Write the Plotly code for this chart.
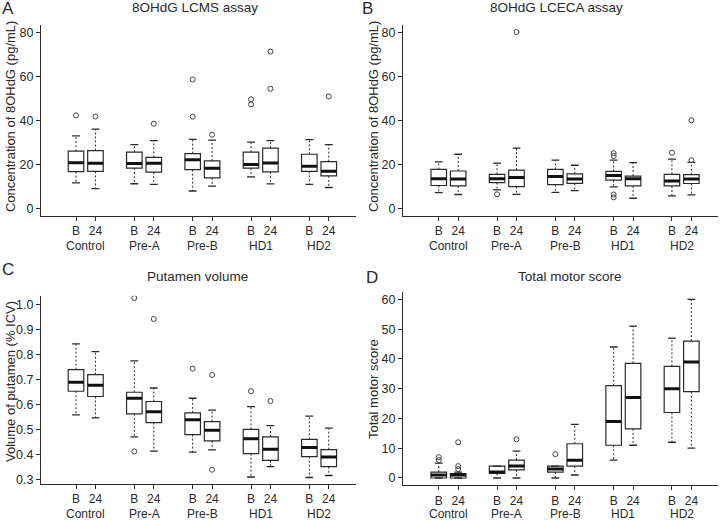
import plotly.graph_objects as go

# ---------------- data ----------------
groups = ["Control", "Pre-A", "Pre-B", "HD1", "HD2"]
times = ["B", "24"]
positions = [1, 2, 4, 5, 7, 8, 10, 11, 13, 14]
tick_text = times * 5

# Panel A: 8OHdG LCMS assay (pg/mL)
A_lo = [11.6, 9.0, 11.2, 10.9, 7.9, 10.1, 14.3, 11.1, 10.9, 9.5]
A_q1 = [16.7, 16.8, 18.3, 16.5, 17.6, 13.9, 18.3, 16.6, 16.8, 14.8]
A_med = [20.7, 20.5, 20.4, 20.5, 22.1, 18.3, 20.0, 20.6, 19.2, 16.9]
A_q3 = [26.0, 26.3, 25.6, 23.2, 24.9, 21.6, 25.6, 27.4, 24.6, 21.3]
A_hi = [33.0, 36.0, 29.0, 30.8, 31.4, 31.0, 30.1, 30.8, 31.3, 29.0]
A_out = [[42.3], [41.8], [], [38.5], [41.7, 58.6], [33.5], [47.3, 49.6], [54.4, 71.3], [], [50.9]]

# Panel B: 8OHdG LCECA assay (pg/mL)
B_lo = [7.2, 6.3, 8.4, 6.4, 7.3, 8.1, 9.8, 4.6, 5.7, 6.1]
B_q1 = [10.4, 10.2, 11.7, 9.9, 10.8, 11.4, 12.8, 10.2, 10.2, 11.3]
B_med = [13.5, 13.3, 13.5, 14.0, 14.5, 13.3, 15.0, 13.5, 12.5, 13.3]
B_q3 = [17.7, 17.0, 15.5, 17.4, 17.7, 15.7, 16.8, 14.7, 15.5, 15.3]
B_hi = [21.1, 24.6, 20.6, 27.4, 21.9, 19.6, 21.9, 20.8, 22.4, 20.9]
B_out = [[], [], [6.4], [80.2], [], [], [5.0, 6.3, 23.8, 25.1], [], [25.3], [21.9, 40.1]]

# Panel C: Putamen volume (% ICV)
C_lo = [0.560, 0.548, 0.472, 0.415, 0.411, 0.420, 0.312, 0.353, 0.310, 0.318]
C_q1 = [0.654, 0.633, 0.564, 0.529, 0.481, 0.456, 0.405, 0.378, 0.393, 0.353]
C_med = [0.690, 0.678, 0.626, 0.572, 0.540, 0.498, 0.464, 0.423, 0.430, 0.392]
C_q3 = [0.740, 0.720, 0.650, 0.613, 0.568, 0.533, 0.502, 0.472, 0.462, 0.421]
C_hi = [0.843, 0.812, 0.775, 0.667, 0.626, 0.579, 0.593, 0.517, 0.555, 0.507]
C_out = [[], [], [0.414, 1.026], [0.942], [0.744], [0.341, 0.719], [0.654], [0.615], [], []]

# Panel D: Total motor score
D_lo = [0, 0, 0, 0, 0, 1, 6, 11, 12, 10]
D_q1 = [0, 0, 1.5, 2.75, 2, 4, 11, 16.5, 22, 29]
D_med = [1, 1, 2, 4, 3, 6, 19, 27, 30, 39]
D_q3 = [2, 1.5, 4, 6, 4, 11.5, 31, 38.5, 37.5, 46]
D_hi = [5, 2, 4, 9, 4, 18, 44, 51, 47, 60]
D_out = [[6, 7], [3, 4, 12], [], [13], [8], [], [], [], [], []]

titles = ["8OHdG LCMS assay", "8OHdG LCECA assay", "Putamen volume", "Total motor score"]
letters = ["A", "B", "C", "D"]
ytitles = ["Concentration of 8OHdG (pg/mL)", "Concentration of 8OHdG (pg/mL)",
           "Volume of putamen (% ICV)", "Total motor score"]

panels = [
    (A_lo, A_q1, A_med, A_q3, A_hi, A_out),
    (B_lo, B_q1, B_med, B_q3, B_hi, B_out),
    (C_lo, C_q1, C_med, C_q3, C_hi, C_out),
    (D_lo, D_q1, D_med, D_q3, D_hi, D_out),
]

# ---------------- styling / layout ----------------
W, H = 720, 520
INK = "#2a2a2a"
FONT = "Liberation Sans, Arial, sans-serif"

x_dom_left = [41 / W, 356 / W]
x_dom_right = [403 / W, 718 / W]
x_rng_left = [-0.8, 15.4]
x_rng_right = [-0.84, 15.37]

y_doms = [
    [1 - 217.3 / H, 1 - 25.4 / H],
    [1 - 217.3 / H, 1 - 25.4 / H],
    [1 - 487.5 / H, 1 - 298 / H],
    [1 - 488.9 / H, 1 - 294.5 / H],
]
y_rngs = [[-3.3, 83.3], [-3.3, 83.3], [0.285, 1.035], [-2.4, 62.4]]
y_ticks = [[0, 20, 40, 60, 80], [0, 20, 40, 60, 80],
           [0.3, 0.4, 0.5, 0.6, 0.7, 0.8, 0.9, 1.0], [0, 10, 20, 30, 40, 50, 60]]
y_fmt = ["", "", ".1f", ""]

fig = go.Figure()

for i, (lo, q1, med, q3, hi, out) in enumerate(panels):
    xa = "x" if i == 0 else f"x{i+1}"
    ya = "y" if i == 0 else f"y{i+1}"

    # dashed whiskers
    wx, wy = [], []
    for p, a, b, c, d in zip(positions, lo, q1, q3, hi):
        wx += [p, p, None, p, p, None]
        wy += [c, d, None, b, a, None]
    fig.add_trace(go.Scatter(x=wx, y=wy, mode="lines", xaxis=xa, yaxis=ya,
                             line=dict(color=INK, width=1, dash="2px,2px"),
                             hoverinfo="skip", showlegend=False))
    # whisker caps
    fig.add_trace(go.Scatter(x=positions + positions, y=list(hi) + list(lo), mode="markers",
                             xaxis=xa, yaxis=ya,
                             marker=dict(symbol="line-ew", size=5.6, color=INK,
                                         line=dict(color=INK, width=1.3)),
                             hoverinfo="skip", showlegend=False))
    # boxes
    fig.add_trace(go.Box(x=positions, q1=q1, median=med, q3=q3,
                         lowerfence=q1, upperfence=q3, width=0.8,
                         xaxis=xa, yaxis=ya, fillcolor="white",
                         line=dict(color=INK, width=1.2), whiskerwidth=0,
                         boxpoints=False, hoverinfo="skip", showlegend=False))
    # thick medians
    fig.add_trace(go.Scatter(x=positions, y=med, mode="markers", xaxis=xa, yaxis=ya,
                             marker=dict(symbol="line-ew", size=11.1, color="#111",
                                         line=dict(color="#111", width=3)),
                             hoverinfo="skip", showlegend=False))
    # outliers
    ox, oy = [], []
    for p, vals in zip(positions, out):
        for v in vals:
            ox.append(p)
            oy.append(v)
    fig.add_trace(go.Scatter(x=ox, y=oy, mode="markers", xaxis=xa, yaxis=ya,
                             marker=dict(symbol="circle-open", size=5, color="#444",
                                         line=dict(color="#444", width=1)),
                             hoverinfo="skip", showlegend=False))

layout = dict(
    width=W, height=H,
    margin=dict(l=0, r=0, t=0, b=0),
    paper_bgcolor="white", plot_bgcolor="white",
    font=dict(family=FONT, color=INK, size=12),
    showlegend=False,
)

for i in range(4):
    key = "" if i == 0 else str(i + 1)
    left = i in (0, 2)
    layout["xaxis" + key] = dict(
        domain=x_dom_left if left else x_dom_right,
        range=x_rng_left if left else x_rng_right,
        anchor="y" + key, tickmode="array", tickvals=positions, ticktext=tick_text,
        showline=True, linecolor=INK, linewidth=1, ticks="outside", ticklen=4,
        tickcolor=INK, showgrid=False, zeroline=False,
        tickfont=dict(size=12, color=INK, family=FONT),
    )
    layout["yaxis" + key] = dict(
        domain=y_doms[i], range=y_rngs[i], anchor="x" + key,
        tickmode="array", tickvals=y_ticks[i], tickformat=y_fmt[i],
        showline=True, linecolor=INK, linewidth=1, ticks="outside", ticklen=4,
        tickcolor=INK, showgrid=False, zeroline=False,
        tickfont=dict(size=12.5, color=INK, family=FONT),
    )

fig.update_layout(**layout)

# annotations: titles, panel letters, y titles, group labels
title_pos = [(195, 8), (556, 8), (197, 279), (570, 279)]
letter_pos = [(8, 9), (367, 9), (8, 272), (372, 280)]
ytitle_pos = [(10, 118), (373, 118), (10, 385), (374, 392)]
group_y_px = [248.0, 248.0, 518.0, 518.0]

for i in range(4):
    fig.add_annotation(text=titles[i], xref="paper", yref="paper",
                       x=title_pos[i][0] / W, y=1 - title_pos[i][1] / H,
                       xanchor="center", yanchor="middle", showarrow=False,
                       font=dict(size=13.5, color=INK, family=FONT))
    fig.add_annotation(text=letters[i], xref="paper", yref="paper",
                       x=letter_pos[i][0] / W, y=1 - letter_pos[i][1] / H,
                       xanchor="center", yanchor="middle", showarrow=False,
                       font=dict(size=17, color=INK, family=FONT))
    fig.add_annotation(text=ytitles[i], xref="paper", yref="paper",
                       x=ytitle_pos[i][0] / W, y=1 - ytitle_pos[i][1] / H,
                       xanchor="center", yanchor="middle", textangle=-90, showarrow=False,
                       font=dict(size=13, color=INK, family=FONT))
    xa = "x" if i == 0 else f"x{i+1}"
    for g, name in enumerate(groups):
        fig.add_annotation(text=name, xref=xa, yref="paper",
                           x=(positions[2 * g] + positions[2 * g + 1]) / 2,
                           y=1 - group_y_px[i] / H,
                           xanchor="center", yanchor="middle", showarrow=False,
                           font=dict(size=12, color=INK, family=FONT))

fig.write_html("out.html", config={"displayModeBar": False},
               post_script="document.body.style.margin='0';document.body.style.overflow='hidden';")
